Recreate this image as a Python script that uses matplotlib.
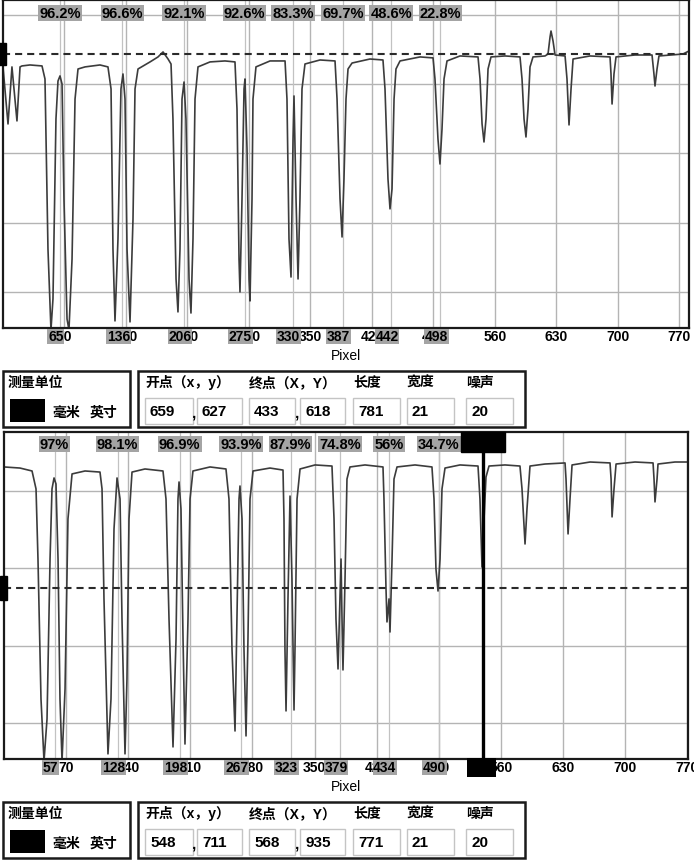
import numpy as np
import matplotlib
matplotlib.use('Agg')
import matplotlib.pyplot as plt
from matplotlib.patches import Rectangle
import matplotlib.transforms as mtransforms

plt.rcParams['font.family'] = ['Liberation Sans', 'Noto Sans CJK SC', 'DejaVu Sans']
plt.rcParams['font.weight'] = 'bold'

W, H = 694, 862

# ---- upper scan: pixel position vs gray level ----
top_len = 781
top_ref = 221.8
top_x = [0, 5.7, 10.2, 15.9, 19.4, 21.6, 30.7, 44.4,
         47.8, 51.2, 54.6, 56.9, 60.3, 62.6, 64.9, 67.2, 69.4, 72.9, 75.1, 78.6, 82.0, 85.4,
         93.4, 110.4, 119.5,
         123.0, 125.2, 127.5, 130.9, 134.3, 136.6, 138.9, 141.2, 144.6, 148.0, 150.3, 153.7,
         167.4, 176.5, 182.2, 187.9, 191.3,
         193.5, 197.0, 199.2, 201.5, 203.8, 206.1, 208.3, 211.8, 214.0, 216.3, 218.6, 222.0,
         235.7, 252.7, 264.1,
         266.4, 268.7, 269.8, 272.1, 274.4, 275.5, 277.8, 280.1, 281.2, 283.5, 284.6, 288.0,
         304.0, 321.1,
         323.3, 325.6, 327.9, 330.2, 331.3, 333.6, 335.9, 338.1, 340.4, 343.8,
         360.9, 378.0,
         380.3, 383.7, 386.0, 388.2, 390.5, 392.8, 397.4,
         417.8, 432.6,
         434.9, 438.3, 440.6, 442.9, 445.2, 447.4, 452.0,
         474.8, 489.6,
         491.8, 495.2, 497.5, 499.8, 502.1, 505.5,
         520.3, 540.8,
         543.1, 545.4, 547.6, 549.9, 552.2, 555.6,
         571.5, 588.6,
         590.9, 593.2, 595.4, 597.7, 600.0, 603.4,
         617.1, 620.5, 622.8, 623.9, 626.2, 628.5,
         639.9, 642.1, 644.4, 646.7, 649.0,
         668.3, 691.1, 692.2, 693.4, 695.6, 697.9,
         719.5, 738.9, 741.1, 742.3, 744.6, 746.8,
         774.1, 781]
top_y = [212.5, 171.3, 212.5, 173.5, 212.5, 213.2, 213.9, 213.2,
         203.8, 81.0, 22.6, 45.0, 174.9, 202.3, 206.0, 200.2, 117.2, 30.5, 22.6, 73.8, 189.3, 211.0,
         212.5, 213.9, 212.5,
         196.6, 81.0, 29.1, 88.3, 196.6, 207.4, 189.3, 81.0, 28.4, 102.7, 196.6, 211.0,
         216.1, 219.7, 223.3, 218.2, 214.6,
         174.9, 59.4, 35.6, 81.0, 189.3, 201.6, 174.9, 59.4, 34.8, 88.3, 189.3, 212.5,
         216.1, 216.8, 216.1,
         182.1, 73.8, 50.0, 117.2, 196.6, 203.8, 153.2, 59.4, 43.5, 117.2, 189.3, 212.5,
         216.8, 216.8,
         189.3, 88.3, 60.8, 160.5, 191.5, 117.2, 59.4, 117.2, 196.6, 214.6,
         217.5, 216.8,
         189.3, 117.2, 89.7, 131.6, 189.3, 211.0, 215.3,
         218.2, 217.5,
         196.6, 131.6, 110.0, 124.4, 189.3, 211.0, 216.8,
         219.7, 219.0,
         203.8, 160.5, 142.4, 167.7, 203.8, 216.8,
         220.4, 219.7,
         203.8, 171.3, 158.3, 174.9, 211.0, 219.7,
         220.4, 219.7,
         203.8, 174.9, 161.9, 182.1, 212.5, 219.7,
         220.4, 221.8, 234.1, 238.4, 231.2, 221.1,
         220.4, 203.8, 170.6, 196.6, 218.2,
         220.4, 219.7, 207.4, 185.7, 207.4, 219.7,
         221.1, 221.1, 207.4, 198.7, 211.0, 220.4,
         221.8, 224.0]
top_marks = [65, 136, 206, 275, 330, 387, 442, 498]
top_pct = ['96.2%', '96.6%', '92.1%', '92.6%', '83.3%', '69.7%', '48.6%', '22.8%']
top_info = ['659', '627', '433', '618', '781', '21', '20']

# ---- lower scan ----
bot_len = 771
bot_ref = 137.3
bot_cursor = 540
bot_x = [0, 18.0, 31.6,
         36.1, 38.3, 41.7, 45.1, 48.5, 51.9, 54.1, 56.4, 58.6, 60.9, 63.1, 65.4, 68.8, 72.1, 76.7,
         91.3, 108.2,
         110.5, 112.7, 117.2, 120.6, 124.0, 127.4, 130.8, 133.0, 136.4, 138.6, 140.9, 144.3,
         158.9, 179.2,
         182.6, 186.0, 190.5, 193.9, 196.1, 197.3, 199.5, 201.8, 204.0, 207.4, 209.7, 213.0,
         232.2, 250.2,
         253.6, 257.0, 260.4, 262.6, 264.9, 266.0, 268.3, 270.5, 272.8, 275.0, 277.3, 280.7,
         299.8, 314.5,
         315.6, 316.7, 317.9, 320.1, 322.4, 324.6, 326.9, 328.0, 330.3, 333.7,
         350.6, 369.7,
         372.0, 374.2, 376.5, 378.7, 379.9, 381.0, 382.1, 384.4, 386.6, 390.0,
         406.9, 427.2,
         428.3, 430.6, 431.7, 434.0, 435.1, 437.4, 439.6, 443.0,
         463.3, 482.4,
         484.7, 486.9, 489.2, 491.5, 493.7, 497.1,
         514.0, 534.3,
         536.5, 538.8, 541.1, 543.3, 546.7,
         564.7, 581.6,
         583.9, 587.3, 589.5, 592.9,
         609.8, 632.4,
         633.5, 635.8, 638.0, 640.3,
         660.6, 683.1,
         684.3, 685.4, 687.6, 689.9,
         711.3, 731.6,
         732.7, 733.8, 736.1, 737.2,
         756.3, 771]
bot_y = [215.5, 214.8, 212.9,
         201.3, 156.0, 65.5, 25.4, 52.6, 156.0, 201.3, 208.4, 204.5, 156.0, 65.5, 25.4, 72.0, 181.9, 211.0,
         212.9, 212.2,
         201.3, 130.2, 30.0, 65.5, 175.4, 208.4, 194.8, 117.2, 30.0, 78.4, 181.9, 212.2,
         214.2, 212.9,
         194.8, 117.2, 34.5, 104.3, 194.8, 205.8, 188.3, 104.3, 36.4, 117.2, 194.8, 212.9,
         215.5, 214.2,
         194.8, 97.8, 44.8, 117.2, 194.8, 203.2, 181.9, 97.8, 41.6, 104.3, 194.8, 212.9,
         214.8, 213.5,
         181.9, 97.8, 57.8, 130.2, 196.7, 143.1, 58.4, 97.8, 194.8, 214.2,
         216.8, 216.1,
         181.9, 117.2, 84.9, 130.2, 156.0, 117.2, 84.3, 143.1, 207.7, 215.5,
         216.8, 215.5,
         194.8, 136.6, 115.3, 130.2, 108.8, 156.0, 207.7, 215.5,
         216.8, 215.5,
         194.8, 149.6, 135.3, 156.0, 201.3, 214.8,
         216.8, 216.1,
         194.8, 150.8, 181.9, 209.0, 216.1,
         216.8, 216.1,
         201.3, 165.7, 188.3, 216.1,
         217.4, 218.1,
         207.7, 172.2, 194.8, 216.8,
         218.7, 218.1,
         207.7, 183.2, 201.3, 217.4,
         218.7, 218.1,
         207.7, 192.9, 207.7, 217.4,
         218.7, 218.7]
bot_marks = [57, 128, 198, 267, 323, 379, 434, 490]
bot_pct = ['97%', '98.1%', '96.9%', '93.9%', '87.9%', '74.8%', '56%', '34.7%']
bot_info = ['548', '711', '568', '935', '771', '21', '20']

fig = plt.figure(figsize=(W / 100, H / 100), dpi=100, facecolor='white')


def px_rect(x, y, w, h):
    return [x / W, 1 - (y + h) / H, w / W, h / H]


def fig_box(x, y, w, h, **kw):
    fig.add_artist(Rectangle((x / W, 1 - (y + h) / H), w / W, h / H,
                             transform=fig.transFigure, **kw))


def fig_text(x, y, s, **kw):
    fig.text(x / W, 1 - y / H, s, va='center', **kw)


def scan_panel(rect, xs, ys, length, ylim, yticks, ref, marks, pct, pct_y, cursor=None):
    ax = fig.add_axes(rect)
    ax.set_xlim(0, length)
    ax.set_ylim(*ylim)
    ax.set_xticks(np.arange(70, length, 70))
    ax.set_yticks(yticks)
    ax.set_yticklabels([])
    ax.tick_params(length=0, labelsize=10, pad=1)
    ax.set_axisbelow(True)
    ax.grid(color='#b4b4b4', lw=1)
    for s in ax.spines.values():
        s.set_linewidth(1.6)
        s.set_color('#1a1a1a')
    for m in marks:
        ax.axvline(m, color='#c2c2c2', lw=0.9, zorder=1)
    ax.axhline(ref, color='#2a2a2a', lw=1.5, ls=(0, (3.4, 2.4)), zorder=2.5)
    ax.plot(xs, ys, color='#3c3c3c', lw=1.2, zorder=2)
    # small black handle on the left edge at the reference level
    tr = mtransforms.blended_transform_factory(ax.transAxes, ax.transData)
    ax.add_patch(Rectangle((-0.006, ref - 8), 0.01, 16, transform=tr,
                           color='black', clip_on=False, zorder=4))
    xtr = ax.get_xaxis_transform()
    for m, p in zip(marks, pct):
        ax.text(m, pct_y, p, transform=xtr, ha='center', va='center', fontsize=10.5,
                bbox=dict(boxstyle='square,pad=0.08', fc='#a4a4a4', ec='none'), zorder=5)
        ax.annotate(str(m), xy=(m, 0), xycoords=xtr, xytext=(-3, -1),
                    textcoords='offset points', ha='center', va='top', fontsize=10,
                    bbox=dict(boxstyle='square,pad=0.05', fc='#a4a4a4', ec='none'),
                    annotation_clip=False, zorder=5)
    if cursor is not None:
        ax.axvline(cursor, color='black', lw=2.4, zorder=4)
        ax.add_patch(Rectangle((cursor - 25, 0.94), 50, 0.06, transform=xtr,
                               color='black', clip_on=False, zorder=6))
        ax.annotate(str(cursor), xy=(cursor, 0), xycoords=xtr, xytext=(-1, -1),
                    textcoords='offset points', ha='center', va='top', fontsize=10,
                    color='black',
                    bbox=dict(boxstyle='square,pad=0.2', fc='black', ec='none'),
                    annotation_clip=False, zorder=6)
    ax.set_xlabel('Pixel', fontsize=10, va='top')
    ax.xaxis.set_label_coords(0.5, -0.062)
    return ax


scan_panel(px_rect(3, 1, 686, 328), top_x, top_y, top_len, (24.0, 260.8),
           [50, 100, 150, 200, 250], top_ref, top_marks, top_pct, 0.960)
scan_panel(px_rect(4, 433, 684, 327), bot_x, bot_y, bot_len, (26.7, 238.1),
           [50, 100, 150, 200], bot_ref, bot_marks, bot_pct, 0.963, cursor=bot_cursor)

# ---- measurement info boxes ----
head_x = [145, 249, 353, 407, 466]
heads = ['开点（x，y）', '终点（X，Y）', '长度', '宽度', '噪声']
field_x = [145, 197, 249, 300, 353, 407, 466]
field_w = [48, 45, 46, 45, 47, 47, 47]


def info_panel(y0, vals):
    fig_box(3, y0, 127, 56, fill=False, ec='#1a1a1a', lw=1.8)
    fig_box(138, y0, 387, 56, fill=False, ec='#1a1a1a', lw=1.8)
    fig_text(8, y0 + 11, '测量单位', fontsize=10)
    fig_box(10, y0 + 28, 35, 23, fc='black', ec='none')
    fig_text(52, y0 + 41, '毫米', fontsize=10)
    fig_text(90, y0 + 41, '英寸', fontsize=10)
    for x, s in zip(head_x, heads):
        fig_text(x, y0 + 11, s, fontsize=10)
    for x, w, v in zip(field_x, field_w, vals):
        fig_box(x, y0 + 27, w, 26, fill=False, ec='#c4c4c4', lw=1)
        fig_text(x + 5, y0 + 40, v, fontsize=11)
    fig_text(192, y0 + 42, ',', fontsize=11)
    fig_text(295, y0 + 42, ',', fontsize=11)


info_panel(372, top_info)
info_panel(803, bot_info)

fig.savefig('out.png', dpi=100, facecolor='white')
